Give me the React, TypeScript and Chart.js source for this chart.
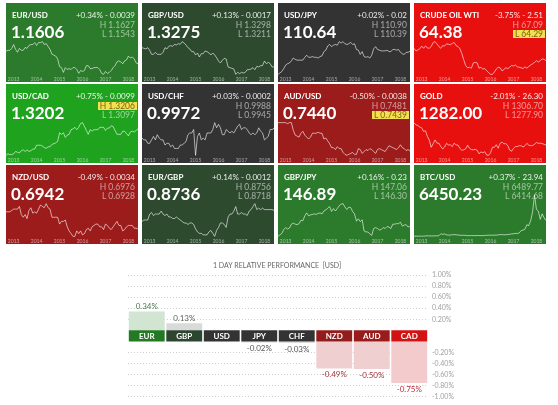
import React, { useEffect, useRef } from 'react';
import { Chart, registerables } from 'chart.js';
Chart.register(...registerables);

const FONT = 'Lato, "Noto Sans", sans-serif';

// ---- sparkline data: monthly, Sep 2012 .. Jun 2018 ----
const YEAR_LABELS = ['2013', '2014', '2015', '2016', '2017', '2018'];
const YEAR_INDEX = [4, 16, 28, 40, 52, 64];

const EURUSD = [1.29,1.30,1.30,1.32, 1.36,1.31,1.28,1.32,1.30,1.30,1.33,1.32,1.35,1.36,1.36,1.38, 1.35,1.38,1.38,1.39,1.36,1.37,1.34,1.31,1.26,1.25,1.24,1.21, 1.13,1.12,1.07,1.12,1.10,1.11,1.10,1.12,1.12,1.10,1.06,1.09, 1.08,1.09,1.14,1.14,1.11,1.11,1.12,1.12,1.12,1.10,1.06,1.05, 1.08,1.06,1.07,1.09,1.12,1.14,1.18,1.19,1.18,1.16,1.19,1.20, 1.24,1.22,1.23,1.21,1.17,1.16];
const GBPUSD = [1.62,1.61,1.60,1.62, 1.58,1.52,1.52,1.55,1.52,1.52,1.52,1.55,1.62,1.60,1.64,1.65, 1.64,1.67,1.66,1.68,1.67,1.71,1.69,1.66,1.62,1.60,1.56,1.56, 1.51,1.54,1.48,1.53,1.53,1.57,1.56,1.54,1.51,1.54,1.51,1.47, 1.42,1.39,1.43,1.46,1.45,1.33,1.32,1.31,1.30,1.22,1.25,1.23, 1.25,1.24,1.25,1.29,1.29,1.30,1.32,1.29,1.34,1.33,1.35,1.35, 1.42,1.38,1.40,1.38,1.33,1.33];
const USDJPY = [78,80,82,86, 91,93,94,97,101,99,98,98,98,98,102,105, 102,102,103,102,102,101,103,104,110,112,118,120, 117,119,120,119,124,122,124,121,120,121,123,120, 121,113,112,106,110,103,102,103,101,105,114,117, 113,112,111,111,111,112,110,110,113,113,112,113, 109,107,106,109,109,110.6];
const WTI = [92,86,88,91, 97,92,97,93,92,96,105,107,102,96,92,98, 97,102,101,100,103,105,98,96,91,80,66,53, 48,49,47,59,60,59,47,49,45,46,41,37, 33,33,38,45,49,48,41,44,48,46,49,53, 52,54,50,49,48,46,50,47,51,54,57,60, 64,61,64,68,67,64];
const USDCAD = [0.98,1.00,0.99,0.99, 1.00,1.03,1.02,1.01,1.04,1.05,1.03,1.05,1.03,1.04,1.06,1.06, 1.11,1.11,1.11,1.10,1.08,1.07,1.09,1.09,1.12,1.13,1.14,1.16, 1.27,1.25,1.27,1.21,1.24,1.25,1.31,1.32,1.34,1.31,1.34,1.39, 1.40,1.35,1.30,1.25,1.31,1.29,1.31,1.31,1.31,1.34,1.34,1.34, 1.30,1.33,1.33,1.36,1.35,1.30,1.25,1.25,1.25,1.29,1.29,1.26, 1.23,1.28,1.29,1.28,1.30,1.32];
const USDCHF = [0.94,0.93,0.93,0.91, 0.91,0.93,0.95,0.93,0.96,0.94,0.93,0.93,0.90,0.91,0.91,0.89, 0.90,0.88,0.88,0.88,0.90,0.90,0.91,0.92,0.96,0.97,0.97,0.99, 0.84,0.95,0.97,0.93,0.94,0.93,0.97,0.97,0.97,0.99,1.03,1.00, 1.02,1.00,0.96,0.96,0.99,0.98,0.97,0.98,0.97,0.99,1.01,1.02, 0.99,1.00,1.00,0.99,0.97,0.96,0.97,0.96,0.97,1.00,0.98,0.97, 0.93,0.94,0.95,0.99,0.99,0.997];
const AUDUSD = [1.04,1.04,1.04,1.04, 1.04,1.03,1.04,1.04,0.96,0.91,0.90,0.89,0.93,0.95,0.91,0.89, 0.87,0.89,0.93,0.93,0.93,0.94,0.93,0.93,0.87,0.88,0.85,0.82, 0.78,0.78,0.76,0.79,0.77,0.77,0.73,0.71,0.70,0.71,0.72,0.73, 0.71,0.71,0.77,0.76,0.72,0.74,0.76,0.75,0.77,0.76,0.74,0.72, 0.76,0.77,0.76,0.75,0.74,0.77,0.80,0.79,0.78,0.77,0.76,0.78, 0.81,0.78,0.77,0.75,0.76,0.744];
const GOLD = [1770,1720,1710,1675, 1660,1580,1595,1470,1390,1235,1310,1395,1325,1325,1250,1200, 1240,1320,1285,1290,1250,1325,1285,1285,1210,1170,1180,1200, 1280,1215,1185,1180,1190,1170,1095,1135,1115,1140,1065,1060, 1115,1235,1235,1290,1215,1320,1350,1310,1315,1275,1175,1150, 1210,1250,1250,1270,1270,1240,1270,1320,1280,1270,1275,1300, 1340,1320,1325,1315,1300,1282];
const NZDUSD = [0.82,0.82,0.82,0.83, 0.84,0.84,0.84,0.86,0.80,0.78,0.80,0.77,0.83,0.85,0.81,0.82, 0.81,0.84,0.87,0.86,0.85,0.88,0.85,0.84,0.78,0.78,0.78,0.78, 0.73,0.75,0.75,0.76,0.71,0.68,0.66,0.64,0.64,0.68,0.66,0.68, 0.65,0.66,0.69,0.70,0.68,0.71,0.72,0.73,0.73,0.71,0.71,0.69, 0.73,0.72,0.70,0.69,0.71,0.73,0.75,0.72,0.72,0.68,0.69,0.71, 0.72,0.72,0.72,0.70,0.70,0.694];
const EURGBP = [0.80,0.81,0.81,0.81, 0.85,0.86,0.84,0.85,0.85,0.85,0.87,0.85,0.84,0.85,0.83,0.83, 0.82,0.82,0.83,0.82,0.81,0.80,0.79,0.79,0.78,0.79,0.79,0.78, 0.75,0.73,0.72,0.72,0.71,0.71,0.71,0.73,0.74,0.72,0.70,0.74, 0.76,0.79,0.79,0.78,0.76,0.83,0.85,0.85,0.87,0.90,0.85,0.85, 0.86,0.85,0.85,0.84,0.87,0.88,0.90,0.92,0.88,0.89,0.88,0.89, 0.88,0.88,0.88,0.88,0.88,0.874];
const GBPJPY = [126,129,132,140, 144,141,143,151,153,151,150,152,159,158,168,174, 168,170,171,172,171,173,174,172,178,180,184,187, 177,183,178,183,189,192,193,186,181,186,185,177, 172,157,162,156,160,137,135,135,131,128,142,144, 142,139,140,144,142,146,145,142,151,151,152,152, 155,147,149,150,145,146.9];
const BTCUSD = [12,11,12,13, 20,33,90,140,130,100,105,140,140,200,1000,750, 900,560,450,450,630,640,590,480,390,340,380,320, 220,250,245,235,230,260,285,230,235,310,380,430, 370,440,415,450,530,670,625,575,610,700,740,960, 970,1190,1080,1350,2300,2500,2870,4700,4340,6450,10000,17000, 11000,10300,6900,9200,7500,6450];

// ---- tile texts ----
const TILE_NAMES = ['EUR/USD', 'GBP/USD', 'USD/JPY', 'CRUDE OIL WTI', 'USD/CAD', 'USD/CHF', 'AUD/USD', 'GOLD', 'NZD/USD', 'EUR/GBP', 'GBP/JPY', 'BTC/USD'];
const TILE_PRICES = ['1.1606', '1.3275', '110.64', '64.38', '1.3202', '0.9972', '0.7440', '1282.00', '0.6942', '0.8736', '146.89', '6450.23'];
const TILE_CHANGES = ['+0.34% - 0.0039', '+0.13% - 0.0017', '+0.02% - 0.02', '-3.75% - 2.51', '+0.75% - 0.0099', '+0.03% - 0.0002', '-0.50% - 0.0038', '-2.01% - 26.30', '-0.49% - 0.0034', '+0.14% - 0.0012', '+0.16% - 0.23', '+0.37% - 23.94'];
const TILE_HIGHS = ['1.1627', '1.3298', '110.90', '67.09', '1.3206', '0.9988', '0.7481', '1306.70', '0.6976', '0.8756', '147.06', '6489.77'];
const TILE_LOWS = ['1.1543', '1.3211', '110.39', '64.29', '1.3097', '0.9945', '0.7439', '1277.90', '0.6928', '0.8718', '146.30', '6414.68'];
const TILE_MARKS = ['', '', '', 'L', 'H', '', 'L', '', '', '', '', ''];
const TILE_SERIES = [EURUSD, GBPUSD, USDJPY, WTI, USDCAD, USDCHF, AUDUSD, GOLD, NZDUSD, EURGBP, GBPJPY, BTCUSD];
const TILE_COLORS = ['#2c7a2c', '#2d4a2f', '#333333', '#e8100f', '#1fa31f', '#333333', '#9c1b1b', '#e8100f', '#9c1b1b', '#2d4a2f', '#2c7a2c', '#2c7a2c'];

// ---- relative performance ----
const PERF_TITLE = '1 DAY RELATIVE PERFORMANCE  [USD]';
const CURRENCIES = ['EUR', 'GBP', 'USD', 'JPY', 'CHF', 'NZD', 'AUD', 'CAD'];
const PERF = [0.34, 0.13, 0, -0.02, -0.03, -0.49, -0.50, -0.75];
const PERF_TICKS = [1.0, 0.8, 0.6, 0.4, 0.2, -0.2, -0.4, -0.6, -0.8, -1.0];
const BOX_COLORS = ['#237a23', '#2d4630', '#333333', '#333333', '#333333', '#931c1c', '#9a1b1b', '#d21313'];
const BAR_COLORS = ['#d2e4d2', '#d8dbd8', '#dddddd', '#dddddd', '#dddddd', '#f0cfd1', '#f0cfd1', '#f3cbcd'];
const LABEL_COLORS = ['#4e7a4e', '#5a665a', '#555555', '#555555', '#555555', '#a3323c', '#a3323c', '#b8303a'];
const GAP = 0.1;

const COLS_X = [6, 142, 278, 414];
const ROWS_Y = [3, 84, 165];
const TW = 132;
const TH = 79;
const TOP_PAD = [38, 38, 38, 38, 38, 38, 38, 38, 38, 38, 38, 29];

function Spark({ data, top }: { data: number[]; top: number }) {
  const ref = useRef<HTMLCanvasElement>(null);
  useEffect(() => {
    const min = Math.min(...data);
    const max = Math.max(...data);
    const pad = (max - min) * 0.02;
    const chart = new Chart(ref.current as HTMLCanvasElement, {
      type: 'line',
      data: {
        datasets: [{
          data: data.map((y, x) => ({ x, y })),
          borderColor: 'rgba(255,255,255,0.6)',
          borderWidth: 1,
          pointRadius: 0,
          tension: 0,
        }],
      },
      options: {
        animation: false,
        responsive: false,
        layout: { padding: { top, left: 0, right: 0, bottom: 0 } },
        plugins: { legend: { display: false }, tooltip: { enabled: false } },
        scales: {
          x: {
            type: 'linear', min: 0, max: data.length - 1,
            grid: { display: false, drawTicks: false }, border: { display: false },
            afterBuildTicks: (s: any) => { s.ticks = YEAR_INDEX.map((v) => ({ value: v })); },
            afterFit: (s: any) => { s.height = 7; },
            ticks: {
              autoSkip: false, maxRotation: 0, padding: 1,
              font: { size: 5, family: FONT }, color: 'rgba(255,255,255,0.55)',
              callback: (v: any) => YEAR_LABELS[YEAR_INDEX.indexOf(v)] ?? '',
            },
          },
          y: { display: false, min: min - pad, max: max + pad },
        },
      },
    } as any);
    return () => chart.destroy();
  }, [data, top]);
  return <canvas ref={ref} width={TW} height={TH} style={{ position: 'absolute', left: 0, top: 0, width: TW, height: TH, display: 'block' }} />;
}

function Tile({ i }: { i: number }) {
  const col = i % 4;
  const row = Math.floor(i / 4);
  const color = TILE_COLORS[i];
  const hl = (k: string) => TILE_MARKS[i] === k
    ? { background: '#f3df4f', color: '#7a6418' }
    : { color: 'rgba(255,255,255,0.55)' };
  return (
    <div style={{ position: 'absolute', left: COLS_X[col], top: ROWS_Y[row], width: TW, height: TH, background: color, overflow: 'hidden' }}>
      <Spark data={TILE_SERIES[i]} top={TOP_PAD[i]} />
      <div style={{ position: 'absolute', left: 6, top: 8.2, fontSize: 8, lineHeight: '8px', fontWeight: 700, color: '#fff', whiteSpace: 'nowrap' }}>{TILE_NAMES[i]}</div>
      <div style={{ position: 'absolute', right: 3, top: 8.2, fontSize: 8, lineHeight: '8px', color: 'rgba(255,255,255,0.9)', whiteSpace: 'nowrap' }}>{TILE_CHANGES[i]}</div>
      <div style={{ position: 'absolute', left: 5, top: 20.3, fontSize: 17, lineHeight: '17px', fontWeight: 700, color: '#fff', whiteSpace: 'nowrap' }}>{TILE_PRICES[i]}</div>
      <div style={{ position: 'absolute', right: 1, top: 17.8, fontSize: 8.5, lineHeight: '8.5px', padding: '0 2px', whiteSpace: 'nowrap', ...hl('H') }}>H {TILE_HIGHS[i]}</div>
      <div style={{ position: 'absolute', right: 1, top: 26.8, fontSize: 8.5, lineHeight: '8.5px', padding: '0 2px', whiteSpace: 'nowrap', ...hl('L') }}>L {TILE_LOWS[i]}</div>
    </div>
  );
}

const fmtPct = (v: number) => v.toFixed(2) + '%';

const perfText = {
  id: 'perfText',
  afterDatasetsDraw(chart: any) {
    const ctx = chart.ctx;
    const boxMeta = chart.getDatasetMeta(0);
    const barMeta = chart.getDatasetMeta(1);
    const ca = chart.chartArea;
    ctx.save();
    ctx.textAlign = 'center';
    CURRENCIES.forEach((c, i) => {
      const box = boxMeta.data[i];
      ctx.font = `bold 8px ${FONT}`;
      ctx.fillStyle = '#ffffff';
      ctx.textBaseline = 'middle';
      ctx.fillText(c, box.x, (box.y + box.base) / 2 + 0.5);
      const v = PERF[i];
      if (v === 0) return;
      const bar = barMeta.data[i];
      ctx.font = `8px ${FONT}`;
      ctx.fillStyle = LABEL_COLORS[i];
      if (v > 0) {
        ctx.textBaseline = 'bottom';
        ctx.fillText(fmtPct(v), bar.x, bar.y - 1);
      } else {
        ctx.textBaseline = 'top';
        ctx.fillText(fmtPct(v), bar.x, bar.y + 2);
      }
    });
    ctx.font = `7px ${FONT}`;
    ctx.fillStyle = '#666666';
    ctx.textBaseline = 'alphabetic';
    ctx.fillText(PERF_TITLE, (ca.left + ca.right) / 2 - 1, ca.top - 7);
    ctx.restore();
  },
};

function PerfChart() {
  const ref = useRef<HTMLCanvasElement>(null);
  useEffect(() => {
    const tickVals = PERF_TICKS.map((t) => (t > 0 ? t + GAP : t - GAP));
    const chart = new Chart(ref.current as HTMLCanvasElement, {
      type: 'bar',
      data: {
        labels: CURRENCIES,
        datasets: [
          {
            data: CURRENCIES.map(() => [-GAP, GAP]),
            backgroundColor: BOX_COLORS,
            borderWidth: 0,
            barPercentage: 0.957,
            categoryPercentage: 1,
            grouped: false,
          },
          {
            data: PERF.map((v) => (v === 0 ? null : v > 0 ? [GAP, GAP + v] : [-GAP, -GAP + v])),
            backgroundColor: BAR_COLORS,
            borderWidth: 0,
            barPercentage: 0.957,
            categoryPercentage: 1,
            grouped: false,
          },
        ],
      },
      options: {
        animation: false,
        responsive: false,
        layout: { padding: { left: 8, top: 20, bottom: 6.7, right: 7 } },
        plugins: { legend: { display: false }, tooltip: { enabled: false }, title: { display: false } },
        scales: {
          x: { display: false },
          y: {
            position: 'right', min: -1.1 - 0.0001, max: 1.1 + 0.0001,
            afterBuildTicks: (s: any) => { s.ticks = tickVals.map((v) => ({ value: v })); },
            afterFit: (s: any) => { s.width = 30; },
            grid: { color: '#cfcfcf', drawTicks: false, lineWidth: 1 },
            border: { display: false, dash: [1, 2] },
            ticks: {
              padding: 4, autoSkip: false,
              font: { size: 7, family: FONT }, color: '#a0a0a0',
              callback: (v: any) => {
                const t = v > 0 ? v - GAP : v + GAP;
                return t.toFixed(2) + '%';
              },
            },
          },
        },
      },
      plugins: [perfText],
    } as any);
    return () => chart.destroy();
  }, []);
  return <canvas ref={ref} width={345} height={150} style={{ position: 'absolute', left: 120, top: 255, width: 345, height: 150, display: 'block' }} />;
}

export default function App() {
  return (
    <div style={{ position: 'absolute', left: 0, top: 0, width: 558, height: 405, background: '#ffffff', fontFamily: FONT, overflow: 'hidden' }}>
      {TILE_NAMES.map((_, i) => <Tile key={i} i={i} />)}
      <PerfChart />
    </div>
  );
}
